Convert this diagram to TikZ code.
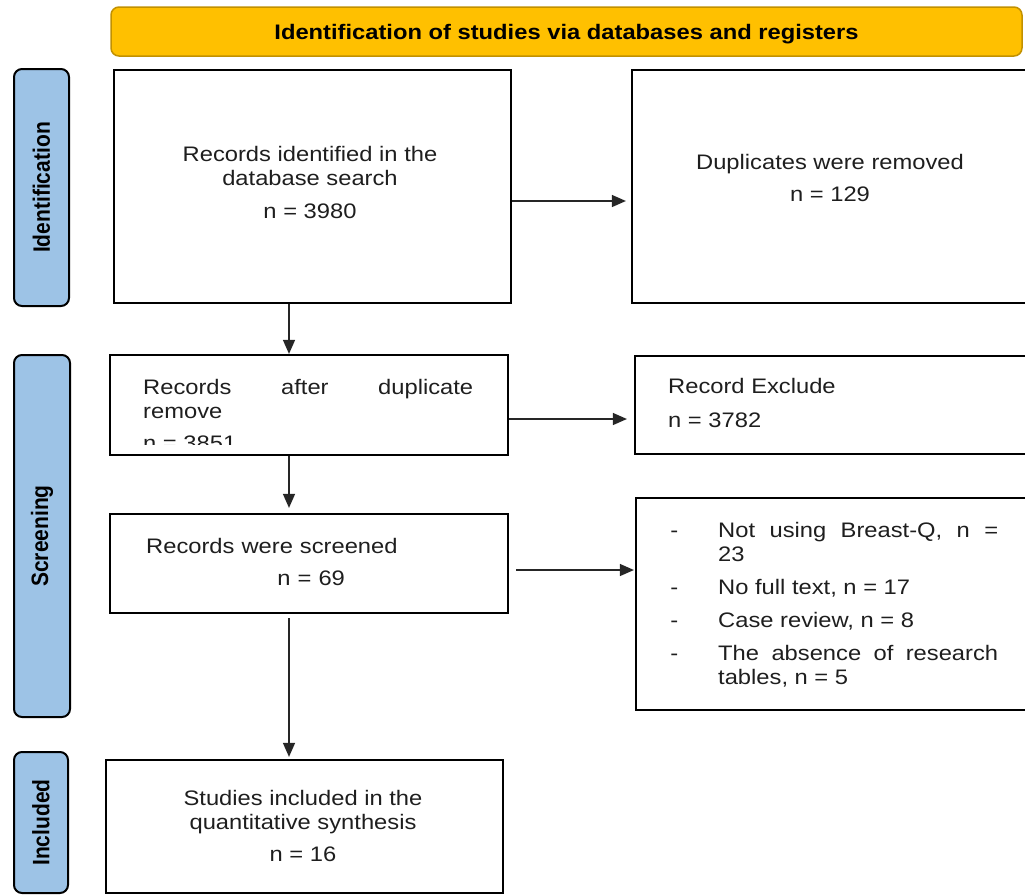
\documentclass[tikz,border=0pt]{standalone}
\usepackage{fontspec}
\setmainfont[FakeStretch=1.13]{Liberation Sans}
\newfontfamily\sidefont{Liberation Sans}
\usepackage{graphicx}
\usetikzlibrary{arrows.meta,positioning}
\definecolor{bannerfill}{HTML}{FFC000}
\definecolor{bannerline}{HTML}{C29100}
\definecolor{phasefill}{HTML}{9DC3E6}
\definecolor{ink}{HTML}{1E1E1E}
\tikzset{
    %Define standard arrow tip
    >={Triangle[length=14pt,width=12pt]},
    %Define style for boxes
    box/.style={
           rectangle,
           draw=black, line width=2.2pt,
           inner sep=0pt},
    phase/.style={
           rectangle,
           rounded corners=8pt,
           draw=black, line width=2pt,
           fill=phasefill,
           inner sep=0pt,
           font=\sidefont\fontsize{21}{24}\selectfont\bfseries},
    banner/.style={
           rectangle,
           rounded corners=8pt,
           draw=bannerline, line width=1.5pt,
           fill=bannerfill,
           inner sep=0pt,
           text height=15pt, text depth=0pt,
           font=\fontsize{21}{24}\selectfont\bfseries},
    txt/.style={
           inner sep=0pt,
           text=ink,
           font=\fontsize{21}{24}\selectfont},
    % Define arrow style
    pil/.style={
           ->,
           line width=1.3pt,
           draw=black!85}
}

\begin{document}
\begin{tikzpicture}[x=1pt, y=-1pt]

\useasboundingbox (0,0) rectangle (1025,895);

%banner
\node[banner, minimum width=911pt, minimum height=49pt] (banner) at (566.5,31.5)
  {Identification of studies via databases and registers};

%phases on the left
\node[phase, minimum width=55pt, minimum height=237pt] (identphase) at (41.5,187.5)
  {\scalebox{1.13}[1]{\rotatebox{90}{Identification}}};
\node[phase, minimum width=56pt, minimum height=362pt] (screenphase) at (42,536)
  {\scalebox{1.13}[1]{\rotatebox{90}{Screening}}};
\node[phase, minimum width=54pt, minimum height=141pt] (inclphase) at (41,822.5)
  {\scalebox{1.13}[1]{\rotatebox{90}{Included}}};

%records identified
\node[box, minimum width=397pt, minimum height=233pt] (records) at (312.5,186.5) {};
\node[txt, align=center, anchor=north] (recordstxt) at (310,146.5)
  {Records identified in the\\database search\\[9pt]n = 3980};

%duplicates, arrow from records
\node[box, minimum width=395pt, minimum height=233pt] (dupl) at (829.5,186.5) {};
\node[txt, align=center, anchor=north] (dupltxt) at (830,154.5)
  {Duplicates were removed\\[8pt]n = 129};

%records after duplicate remove (text cut off by the box)
\node[box, minimum width=398pt, minimum height=100pt] (afterdup) at (309,405) {};
\begin{scope}
  \clip (110,357) rectangle (508,444);
  \node[txt, text width=330pt, align=justify, anchor=north west] (afterduptxt) at (143,378.7)
    {Records after duplicate\linebreak remove\\[8pt]n = 3851};
\end{scope}

%record exclude
\node[box, minimum width=392pt, minimum height=98pt] (excl) at (831,405) {};
\node[txt, align=left, anchor=north west] (excltxt) at (668,377.7)
  {Record Exclude\\[10pt]n = 3782};

%records screened
\node[box, minimum width=398pt, minimum height=99pt] (screened) at (309,563.5) {};
\node[txt, text width=330pt, align=left, anchor=north west] (screenedtxt) at (146,537.7)
  {Records were screened\\[8pt]\makebox[\hsize]{n = 69}};

%reasons for exclusion
\node[box, minimum width=391pt, minimum height=212pt] (reasons) at (831.5,604) {};
\node[txt, text width=328pt, align=justify, anchor=north west] (reasonstxt) at (670,513.7)
  {\begin{list}{-}{\setlength{\leftmargin}{48pt}\setlength{\labelwidth}{8pt}%
     \setlength{\labelsep}{40pt}\setlength{\itemsep}{9pt}\setlength{\topsep}{0pt}%
     \setlength{\parsep}{0pt}\setlength{\partopsep}{0pt}}
   \item Not using Breast-Q, n =\linebreak 23
   \item No full text, n = 17
   \item Case review, n = 8
   \item The absence of research\linebreak tables, n = 5
   \end{list}};

%studies included
\node[box, minimum width=397pt, minimum height=133pt] (included) at (304.5,826.5) {};
\node[txt, align=center, anchor=north] (includedtxt) at (303,789.7)
  {Studies included in the\\quantitative synthesis\\[8pt]n = 16};

%arrows
\coordinate (spine) at (289,0);
\coordinate (row1) at (0,201);
\coordinate (row2) at (0,419);
\coordinate (row3) at (0,570);
\draw[pil] (records.south -| spine) -- (afterdup.north -| spine);
\draw[pil, shorten >=5pt] (afterdup.south -| spine) -- (screened.north -| spine);
\draw[pil, shorten <=4pt, shorten >=2pt] (screened.south -| spine) -- (included.north -| spine);
\draw[pil, shorten >=5pt] (records.east |- row1) -- (dupl.west |- row1);
\draw[pil, shorten >=7pt] (afterdup.east |- row2) -- (excl.west |- row2);
\draw[pil, shorten <=7pt, shorten >=1pt] (screened.east |- row3) -- (reasons.west |- row3);

\end{tikzpicture}
\end{document}
